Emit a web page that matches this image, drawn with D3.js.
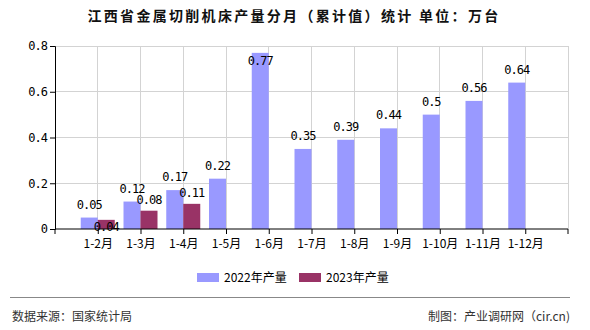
<!DOCTYPE html>
<html><head><meta charset="utf-8">
<script src="https://cdn.jsdelivr.net/npm/d3@7"></script>
<style>body{margin:0;background:#fff}svg{display:block;font-family:"Noto Sans CJK SC","Noto Sans",sans-serif}</style>
</head><body><svg id="c" width="590" height="330"></svg>
<script>
const title = "江西省金属切削机床产量分月（累计值）统计 单位：万台";
const categories = ["1-2月","1-3月","1-4月","1-5月","1-6月","1-7月","1-8月","1-9月","1-10月","1-11月","1-12月"];
const values2022 = [0.05,0.12,0.17,0.22,0.77,0.35,0.39,0.44,0.5,0.56,0.64];
const values2023 = [0.04,0.08,0.11,null,null,null,null,null,null,null,null];
const labels2022 = ["0.05","0.12","0.17","0.22","0.77","0.35","0.39","0.44","0.5","0.56","0.64"];
const labels2023 = ["0.04","0.08","0.11"];
const seriesNames = ["2022年产量","2023年产量"];
const colors = ["#9999ff","#993366"];
const yTicks = [0,0.2,0.4,0.6,0.8];
const yTickLabels = ["0","0.2","0.4","0.6","0.8"];

const CJK = '"Noto Sans CJK SC","Noto Sans",sans-serif';
const MONO = '"DejaVu Sans Mono","Liberation Mono",monospace';
const svg = d3.select("#c");
const L=55,R=568,T=46,B=229;
const x = d3.scalePoint().domain(categories).range([L,R]).padding(1);
const y = d3.scaleLinear().domain([0,0.8]).range([B,T]);
const bw = 17;

// title
svg.append("text").attr("x",294).attr("y",21).attr("text-anchor","middle")
  .style("font-family",CJK).style("font-size","14px").style("font-weight","bold").style("letter-spacing","2.3px").attr("fill","#111").text(title);

// grid
const g = svg.append("g");
yTicks.slice(1).forEach(t=>{
  g.append("line").attr("x1",L).attr("x2",R).attr("y1",y(t)).attr("y2",y(t)).attr("stroke","#d3d3d3").attr("shape-rendering","crispEdges");
});
categories.forEach(c=>{
  g.append("line").attr("x1",x(c)).attr("x2",x(c)).attr("y1",T).attr("y2",B).attr("stroke","#d3d3d3").attr("shape-rendering","crispEdges");
});
g.append("line").attr("x1",R).attr("x2",R).attr("y1",T).attr("y2",B).attr("stroke","#d3d3d3").attr("shape-rendering","crispEdges");

// bars
categories.forEach((c,i)=>{
  if(values2022[i]!=null) g.append("rect").attr("x",x(c)-bw).attr("y",y(values2022[i])).attr("width",bw).attr("height",B-y(values2022[i])).attr("fill",colors[0]);
  if(values2023[i]!=null) g.append("rect").attr("x",x(c)).attr("y",y(values2023[i])).attr("width",bw).attr("height",B-y(values2023[i])).attr("fill",colors[1]);
});

// axes
const yAxis = d3.axisLeft(y).tickValues(yTicks).tickFormat((d,i)=>yTickLabels[i]).tickSize(5).tickPadding(3);
const ya = svg.append("g").attr("transform",`translate(${L},0)`).call(yAxis);
ya.select(".domain").attr("stroke","#000");
ya.selectAll("text").style("font-family",MONO).style("font-size","12px").style("letter-spacing","-1px").attr("fill","#000");

const xa = svg.append("g").attr("transform",`translate(0,${B})`).call(d3.axisBottom(x).tickSize(5).tickPadding(5));
xa.select(".domain").attr("d",`M${L},0H${R}`).attr("stroke","#000");
xa.selectAll("text").style("font-family",CJK).style("font-size","12px").attr("fill","#000");
[L,R].forEach(p=>xa.append("line").attr("x1",p).attr("x2",p).attr("y1",0).attr("y2",5).attr("stroke","#000"));

// value labels
const lab = svg.append("g").attr("fill","#000").attr("text-anchor","middle");
function addLabel(xx,yy,t){
  lab.append("text").attr("x",xx).attr("y",yy).style("font-family",MONO).style("font-size","12px").style("letter-spacing","-1px").text(t);
}
categories.forEach((c,i)=>{
  const v=values2022[i];
  if(v==null) return;
  let yy = y(v)-9;
  if(yy-10<T) yy = y(v)+12;
  addLabel(x(c)-bw/2,yy,labels2022[i]);
});
categories.forEach((c,i)=>{
  const v=values2023[i];
  if(v==null) return;
  let yy = y(v)-7;
  const other = y(values2022[i])-9;
  if(Math.abs(other-yy)<10) yy = B+2;
  addLabel(x(c)+bw/2,yy,labels2023[i]);
});

// legend
const lg = svg.append("g");
const lx=[197,299];
seriesNames.forEach((n,i)=>{
  lg.append("rect").attr("x",lx[i]).attr("y",273).attr("width",22).attr("height",9).attr("fill",colors[i]);
  lg.append("text").attr("x",lx[i]+27).attr("y",281.5).style("font-family",CJK).style("font-size","12px").attr("fill","#000").text(n);
});

// footer
svg.append("line").attr("x1",10).attr("x2",570).attr("y1",297.5).attr("y2",297.5).attr("stroke","#888").attr("stroke-width",1);
svg.append("text").attr("x",12).attr("y",320.5).style("font-family",CJK).style("font-size","12px").attr("fill","#333").text("数据来源：国家统计局");
svg.append("text").attr("x",570).attr("y",320.5).attr("text-anchor","end").style("font-family",CJK).style("font-size","12px").attr("fill","#333").text("制图：产业调研网（cir.cn)");
</script></body></html>
